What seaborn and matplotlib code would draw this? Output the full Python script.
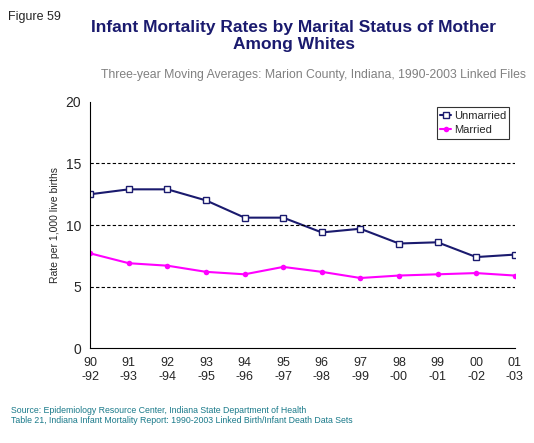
import matplotlib
matplotlib.use("Agg")
import matplotlib.pyplot as plt
import numpy as np
import pandas as pd
import seaborn as sns

periods = ["90\n-92", "91\n-93", "92\n-94", "93\n-95", "94\n-96", "95\n-97",
           "96\n-98", "97\n-99", "98\n-00", "99\n-01", "00\n-02", "01\n-03"]
unmarried = [12.5, 12.9, 12.9, 12.0, 10.6, 10.6, 9.4, 9.7, 8.5, 8.6, 7.4, 7.6]
married = [7.7, 6.9, 6.7, 6.2, 6.0, 6.6, 6.2, 5.7, 5.9, 6.0, 6.1, 5.9]

sns.set_style("white")
plt.rcParams["font.family"] = ["Liberation Sans", "DejaVu Sans"]

df = pd.DataFrame({"x": np.arange(len(periods)), "Unmarried": unmarried, "Married": married})

fig = plt.figure(figsize=(5.34, 4.43), dpi=100)
ax = fig.add_axes([0.169, 0.214, 0.795, 0.556])

sns.lineplot(data=df, x="x", y="Unmarried", ax=ax, color="#1a1a6e", marker="s",
             markersize=5, markerfacecolor="white", markeredgecolor="#1a1a6e",
             markeredgewidth=1, linewidth=1.5, label="Unmarried")
sns.lineplot(data=df, x="x", y="Married", ax=ax, color="#ff00ff", marker="o",
             markersize=4, markeredgewidth=0, linewidth=1.5, label="Married")

ax.set_xlim(0, len(periods) - 1)
ax.set_ylim(0, 20)
ax.set_yticks([0, 5, 10, 15, 20])
ax.set_xticks(np.arange(len(periods)))
ax.set_xticklabels(periods)
ax.tick_params(labelsize=9, length=3, direction="out")
ax.tick_params(axis="y", labelsize=10)
for y in [5, 10, 15]:
    ax.axhline(y, color="black", linestyle=(0, (3, 2)), linewidth=0.8)
for s in ["top", "right"]:
    ax.spines[s].set_visible(False)
for s in ["left", "bottom"]:
    ax.spines[s].set_color("black")
ax.set_xlabel("")
ax.set_ylabel("Rate per 1,000 live births", fontsize=7.5)
leg = ax.legend(loc="upper right", fontsize=8, frameon=True, fancybox=False,
                edgecolor="black", handlelength=1.0, handletextpad=0.2,
                borderpad=0.3, labelspacing=0.4)
leg.get_frame().set_linewidth(0.8)

fig.text(0.015, 0.975, "Figure 59", fontsize=9, va="top")
fig.text(0.55, 0.955, "Infant Mortality Rates by Marital Status of Mother\nAmong Whites",
         ha="center", va="top", fontsize=12.5, fontweight="bold", color="#1a1a6e",
         linespacing=1.15)
fig.text(0.985, 0.83, "Three-year Moving Averages: Marion County, Indiana, 1990-2003 Linked Files",
         ha="right", va="center", fontsize=8.8, color="#808080")
fig.text(0.02, 0.062, "Source: Epidemiology Resource Center, Indiana State Department of Health\n"
         "Table 21, Indiana Infant Mortality Report: 1990-2003 Linked Birth/Infant Death Data Sets",
         fontsize=6.3, color="#1a7a8a", va="center")

fig.savefig("out.png", dpi=100)
